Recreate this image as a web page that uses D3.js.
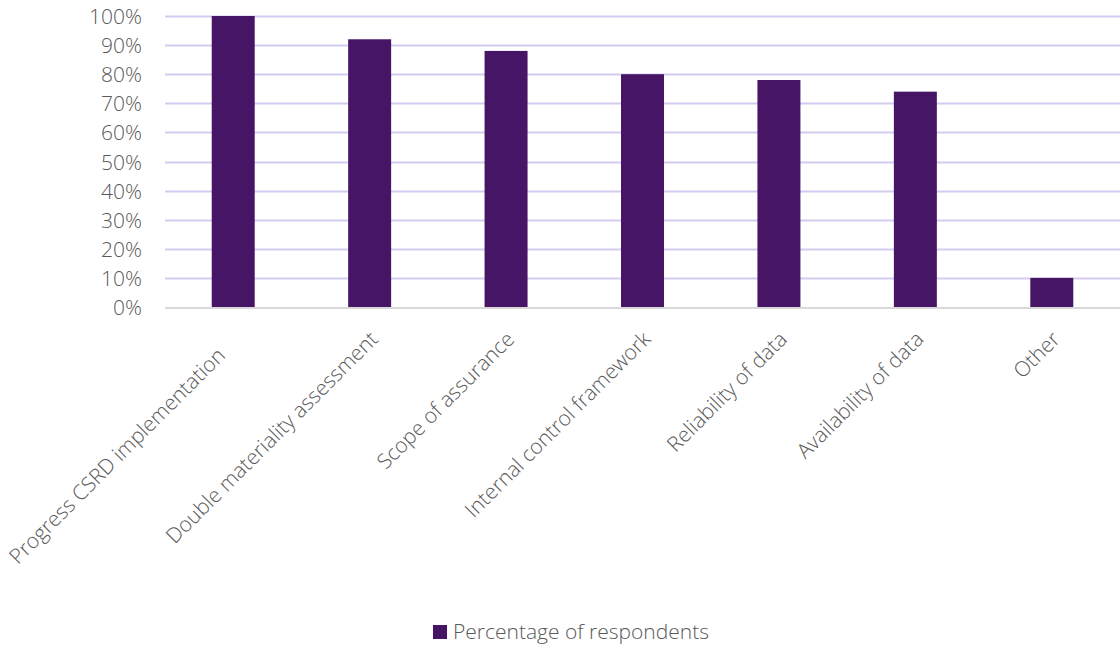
<!DOCTYPE html>
<html>
<head>
<meta charset="utf-8">
<script src="https://cdn.jsdelivr.net/npm/d3@7"></script>
<style>
  html, body { margin: 0; padding: 0; background: #ffffff; }
  svg { display: block; }
  text { font-family: "Open Sans", Lato, "Liberation Sans", sans-serif; font-weight: 300; }
</style>
</head>
<body>
<svg id="chart" width="1120" height="645"></svg>
<script>
// Topics raised with respondents and the share of respondents mentioning each
const categories = [
  "Progress CSRD implementation",
  "Double materiality assessment",
  "Scope of assurance",
  "Internal control framework",
  "Reliability of data",
  "Availability of data",
  "Other"
];
const percentages = [100, 92, 88, 80, 78, 74, 10];
const yTicks = [0, 10, 20, 30, 40, 50, 60, 70, 80, 90, 100];
const seriesName = "Percentage of respondents";

const barColor = "#461566";
const gridColor = "#d4cbee";
const axisColor = "#d9d9d9";
const textColor = "#595959";
const fontSize = 21;

const svg = d3.select("#chart");
const plot = { left: 165, right: 1120, top: 16, bottom: 307 };

const x = d3.scaleBand()
  .domain(categories)
  .range([plot.left, plot.right])
  .paddingInner(0.685)
  .paddingOuter(0.3425);

const y = d3.scaleLinear()
  .domain([0, 100])
  .range([plot.bottom, plot.top]);

// Horizontal gridlines (skip the baseline, drawn as the axis)
svg.append("g")
  .selectAll("line")
  .data(yTicks.filter(d => d > 0))
  .join("line")
  .attr("x1", plot.left)
  .attr("x2", plot.right)
  .attr("y1", d => Math.round(y(d)) + 0.5)
  .attr("y2", d => Math.round(y(d)) + 0.5)
  .attr("stroke", gridColor)
  .attr("stroke-width", 2);

// Y axis labels
const yAxis = d3.axisLeft(y)
  .tickValues(yTicks)
  .tickFormat(d => d + "%")
  .tickSize(0)
  .tickPadding(0);

svg.append("g")
  .attr("transform", `translate(142,0)`)
  .call(yAxis)
  .call(g => g.select(".domain").remove())
  .call(g => g.selectAll("text")
    .attr("fill", textColor)
    .attr("font-size", fontSize)
    .attr("dy", "0.36em")
    .style("font-family", "'Open Sans', Lato, sans-serif")
    .style("font-weight", 300));

// Bars
svg.append("g")
  .selectAll("rect")
  .data(categories)
  .join("rect")
  .attr("x", d => x(d))
  .attr("width", x.bandwidth())
  .attr("y", (d, i) => y(percentages[i]))
  .attr("height", (d, i) => y(0) - y(percentages[i]))
  .attr("fill", barColor);

// Category axis line
svg.append("line")
  .attr("x1", plot.left)
  .attr("x2", plot.right)
  .attr("y1", plot.bottom + 1)
  .attr("y2", plot.bottom + 1)
  .attr("stroke", axisColor)
  .attr("stroke-width", 2);

// Rotated category labels
const labelNudge = (i) => i === 0 ? -23 : 0;
svg.append("g")
  .selectAll("text")
  .data(categories)
  .join("text")
  .attr("transform", d => `translate(${x(d) + x.bandwidth() / 2 + 9.5},${plot.bottom + 33.5}) rotate(-45)`)
  .attr("dx", (d, i) => labelNudge(i))
  .attr("text-anchor", "end")
  .attr("font-size", fontSize)
  .attr("fill", textColor)
  .text(d => d);

// Legend
const legend = svg.append("g").attr("transform", "translate(433,625)");
legend.append("rect")
  .attr("width", 14)
  .attr("height", 14)
  .attr("fill", barColor);
legend.append("text")
  .attr("x", 20)
  .attr("y", 14)
  .attr("font-size", fontSize)
  .attr("fill", textColor)
  .text(seriesName);
</script>
</body>
</html>
